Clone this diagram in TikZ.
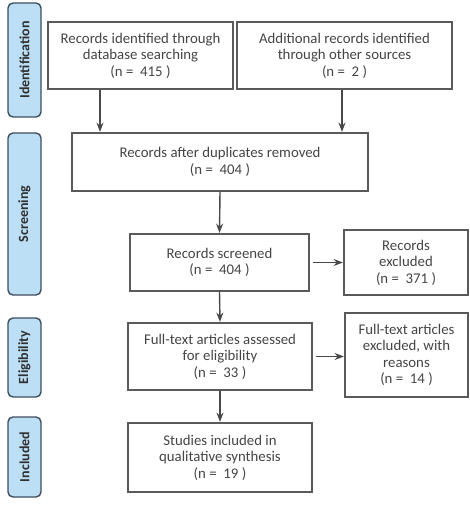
\documentclass[tikz,border=0pt]{standalone}
\usepackage{fontspec}
\setmainfont{Carlito}
\usepackage{xcolor}
\usepackage{tikz}
\usetikzlibrary{arrows.meta,positioning,calc}
\definecolor{txtgray}{HTML}{454545}
\definecolor{boxgray}{HTML}{5A5A5A}
\definecolor{phasefill}{HTML}{BCDFF5}
\definecolor{phaseedge}{HTML}{3E4E5E}
\tikzset{
  >=Stealth,
  arr/.style={->,draw=boxgray!80!black,line width=1.4pt,shorten >=0.5pt},
}
\newcommand{\nrec}[1]{(n = \ #1 )}

\begin{document}
\begin{tikzpicture}[x=1pt,y=-1pt,
  fbox/.style={draw=boxgray,line width=1.2pt,fill=white,align=center,inner sep=0pt,
    text=txtgray,font=\fontsize{14.8}{16.5}\selectfont},
  phase/.style={draw=phaseedge,fill=phasefill,rounded corners=5pt,line width=1.4pt,
    minimum width=33pt,inner sep=0pt,font=\fontsize{14}{15}\selectfont\bfseries,
    text=txtgray!70!black},
]
  \useasboundingbox (0,0) rectangle (470,505);

  % phase labels
  \node[phase,minimum height=114pt] (pI) at (24.5,60) {\rotatebox{90}{Identification}};
  \node[phase,minimum height=162pt] (pS) at (24.5,214) {\rotatebox{90}{Screening}};
  \node[phase,minimum height=79pt] (pE) at (24.5,357.5) {\rotatebox{90}{Eligibility}};
  \node[phase,minimum height=80pt] (pN) at (24.5,457) {\rotatebox{90}{Included}};

  % Identification
  \node[fbox,minimum width=185pt,minimum height=67pt] (db) at (140.5,55.5) {%
    Records identified through\\database searching\\\nrec{415}};
  \node[fbox,minimum width=215pt,minimum height=67pt] (other) at (344.5,55.5) {%
    Additional records identified\\through other sources\\\nrec{2}};

  % Screening
  \node[fbox,minimum width=296pt,minimum height=58pt] (dup) at (220,162) {%
    Records after duplicates removed\\\nrec{404}};
  \node[fbox,minimum width=179pt,minimum height=57pt] (scr) at (219.5,262.5) {%
    Records screened\\\nrec{404}};
  \node[fbox,minimum width=124pt,minimum height=65pt] (exc) at (406,262.5) {%
    Records\\excluded\\\nrec{371}};

  % Eligibility
  \node[fbox,minimum width=184pt,minimum height=67pt] (full) at (220,356.5) {%
    Full-text articles assessed\\for eligibility\\\nrec{33}};
  \node[fbox,minimum width=123pt,minimum height=84pt] (fexc) at (406.5,355) {%
    Full-text articles\\excluded, with\\reasons\\\nrec{14}};

  % Included
  \node[fbox,minimum width=184pt,minimum height=69pt] (incl) at (220,457.5) {%
    Studies included in\\qualitative synthesis\\\nrec{19}};

  \draw[arr] ([xshift=-40.5pt]db.south) -- ([xshift=-40.5pt]db.south |- dup.north);
  \draw[arr] ([xshift=-2.5pt]other.south) -- ([xshift=-2.5pt]other.south |- dup.north);
  \foreach \u/\v in {dup/scr,scr/full,full/incl}
    \draw[arr] (\u.south) -- (\v.north);
  \draw[arr] ([xshift=3pt]scr.east) -- (exc.west |- scr.east);
  \draw[arr] ([xshift=3pt]full.east) -- (fexc.west |- full.east);
\end{tikzpicture}
\end{document}
